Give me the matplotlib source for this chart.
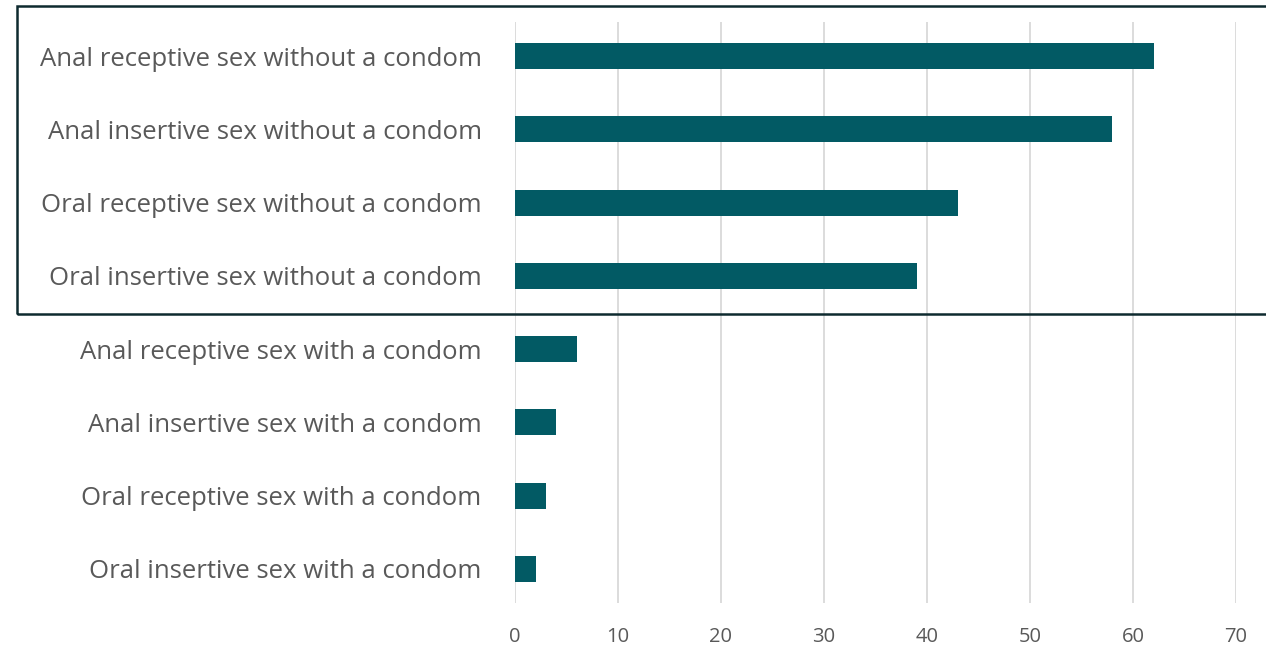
import matplotlib
matplotlib.use("Agg")
import matplotlib.pyplot as plt
from matplotlib.patches import Rectangle

categories = [
    "Anal receptive sex without a condom",
    "Anal insertive sex without a condom",
    "Oral receptive sex without a condom",
    "Oral insertive sex without a condom",
    "Anal receptive sex with a condom",
    "Anal insertive sex with a condom",
    "Oral receptive sex with a condom",
    "Oral insertive sex with a condom",
]
values = [62, 58, 43, 39, 6, 4, 3, 2]
xticks = [0, 10, 20, 30, 40, 50, 60, 70]

W, H = 1266, 649
fig = plt.figure(figsize=(W / 100, H / 100), dpi=100)
ax = fig.add_axes([515 / W, 1 - 603 / H, (1236 - 515) / W, (603 - 22) / H])

pos = list(range(len(categories)))
ax.barh(pos, values, height=0.355, color="#025a64", zorder=3)
ax.set_ylim(len(categories) - 1 + 0.464, -0.464)
ax.set_xlim(0, 70)
ax.set_xticks(xticks)
ax.set_xticklabels([str(t) for t in xticks])
ax.set_yticks(pos)
ax.set_yticklabels(categories)

ax.grid(axis="x", color="#d9d9d9", linewidth=1.3, zorder=0)
for s in ax.spines.values():
    s.set_visible(False)
ax.tick_params(axis="y", length=0, pad=24, labelsize=18.5, labelcolor="#595959")
ax.tick_params(axis="x", length=0, pad=17, labelsize=14.5, labelcolor="#595959")
for lab in ax.get_yticklabels() + ax.get_xticklabels():
    lab.set_family("Open Sans")

rect = Rectangle((17 / W, 1 - 314 / H), (1280 - 17) / W, (314 - 6) / H,
                 transform=fig.transFigure, fill=False, edgecolor="#0e2a2f",
                 linewidth=1.8, clip_on=False)
fig.patches.append(rect)

fig.savefig("out.png", dpi=100)
